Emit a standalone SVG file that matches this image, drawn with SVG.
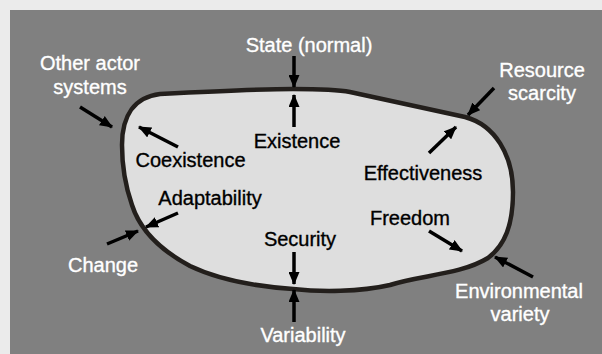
<svg xmlns="http://www.w3.org/2000/svg" width="602" height="354" viewBox="0 0 602 354">
<defs>
<style>
.lbl{font-family:"Liberation Sans",Arial,sans-serif;font-size:20px;text-anchor:middle;stroke-width:0.35}
.w{fill:#ffffff;stroke:#ffffff}
.k{fill:#000000;stroke:#000000}
.arr{stroke:#000;stroke-width:3.5;fill:none;marker-end:url(#ah)}
</style>
<marker id="ah" viewBox="0 0 13 11" refX="12" refY="5.5" markerWidth="13" markerHeight="11" markerUnits="userSpaceOnUse" orient="auto">
<path d="M0,0 L13,5.5 L0,11 Z" fill="#000"/>
</marker>
</defs>
<rect x="0" y="0" width="602" height="354" fill="#ebebeb"/>
<rect x="10" y="10" width="592" height="344" fill="#808080"/>
<g id="system">
<path d="M160,94 C200,92 260,89 293,89 C320,89 340,90 350,92 L465,117 C495,125 513,155 513,192 C513,225 505,245 488,258 C460,275 420,275 390,285 C360,292 320,292 293,289 C250,286 215,278 190,266 C160,250 140,230 132,205 C125,185 122,165 122,145 C122,115 135,97 160,94 Z" fill="#dedede" stroke="#231f1c" stroke-width="4.5"/>
</g>
<g id="connectors">
<line class="arr" x1="294" y1="56" x2="294" y2="87"/>
<line class="arr" x1="294" y1="127" x2="294" y2="95"/>
<line class="arr" x1="294" y1="252" x2="294" y2="284"/>
<line class="arr" x1="294" y1="322" x2="294" y2="290"/>
<line class="arr" x1="80" y1="107" x2="112" y2="127"/>
<line class="arr" x1="178" y1="147" x2="139" y2="127"/>
<line class="arr" x1="178" y1="213" x2="146" y2="227"/>
<line class="arr" x1="107" y1="244" x2="138" y2="231"/>
<line class="arr" x1="494" y1="88" x2="468" y2="115"/>
<line class="arr" x1="429" y1="153" x2="456" y2="127"/>
<line class="arr" x1="429" y1="231" x2="462" y2="251"/>
<line class="arr" x1="533" y1="277" x2="495" y2="257"/>
</g>
<g id="state"><text class="lbl w" x="309" y="52">State (normal)</text></g>
<g id="existence"><text class="lbl k" x="297" y="148">Existence</text></g>
<g id="security"><text class="lbl k" x="300" y="246">Security</text></g>
<g id="variability"><text class="lbl w" x="303" y="342">Variability</text></g>
<g id="other-actor-systems"><text class="lbl w" x="90" y="70">Other actor</text><text class="lbl w" x="90" y="94">systems</text></g>
<g id="coexistence"><text class="lbl k" x="190.5" y="167">Coexistence</text></g>
<g id="adaptability"><text class="lbl k" x="210" y="205">Adaptability</text></g>
<g id="change"><text class="lbl w" x="103" y="272">Change</text></g>
<g id="resource-scarcity"><text class="lbl w" x="542" y="77">Resource</text><text class="lbl w" x="542" y="100">scarcity</text></g>
<g id="effectiveness"><text class="lbl k" x="423" y="180">Effectiveness</text></g>
<g id="freedom"><text class="lbl k" x="410" y="225">Freedom</text></g>
<g id="environmental-variety"><text class="lbl w" x="519" y="298">Environmental</text><text class="lbl w" x="520" y="321">variety</text></g>
</svg>
